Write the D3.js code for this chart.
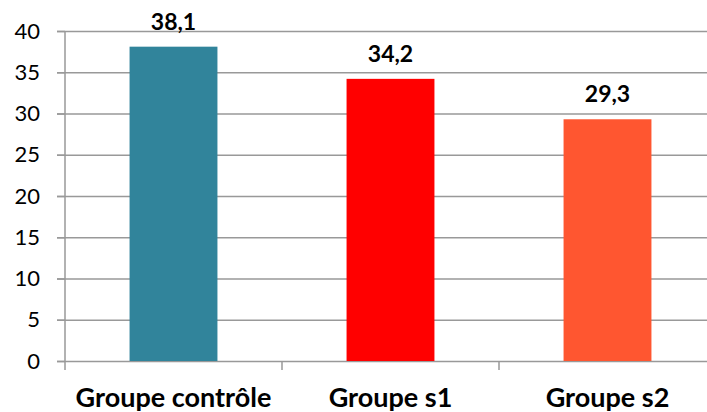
<!DOCTYPE html>
<html>
<head>
<meta charset="utf-8">
<script src="https://cdn.jsdelivr.net/npm/d3@7"></script>
<style>
	body { margin: 0; background: #fff; }
	svg { display: block; }
	.grid line { stroke: #999; stroke-width: 1.5; }
	.grid path { display: none; }
	.axis path, .axis line { stroke: #999; stroke-width: 1.5; }
	.y.axis text { font-family: Lato, sans-serif; font-size: 22px; fill: #000; }
	.x.axis text { font-family: Lato, sans-serif; font-size: 27px; font-weight: bold; fill: #000; }
	.label { font-family: Lato, sans-serif; font-size: 23px; font-weight: bold; fill: #000; }
</style>
</head>
<body>
<div id="chart"></div>
<script>
const categories = ["Groupe contrôle", "Groupe s1", "Groupe s2"];
const values = [38.1, 34.2, 29.3];
const labels = ["38,1", "34,2", "29,3"];
const colors = ["#31849b", "#ff0000", "#ff5630"];
const yTicks = [0, 5, 10, 15, 20, 25, 30, 35, 40];

const W = 707, H = 412;
const margin = {top: 31, left: 65, bottom: 51};
const width = 651;
const height = H - margin.top - margin.bottom;

let svg = d3.select("#chart")
	.append("svg")
	.attr("width", W)
	.attr("height", H)
	.append("g")
	.attr("transform", "translate(" + margin.left + "," + margin.top + ")");

let xScale = d3.scaleBand()
	.domain(categories)
	.range([0, width])
	.paddingInner(0)
	.paddingOuter(0);

let yScale = d3.scaleLinear()
	.domain([0, 40])
	.range([height, 0]);

// background grid
svg.append("g")
	.attr("class", "grid")
	.attr("transform", "translate(-8,0)")
	.call(d3.axisLeft(yScale).tickValues(yTicks)
		.tickSize(-(width + 8))
		.tickFormat("")
	);

// bars
let bw = xScale.bandwidth() * 0.405;
svg.selectAll("rect.bar")
	.data(values)
	.enter().append("rect")
	.attr("class", "bar")
	.attr("x", (d, i) => xScale(categories[i]) + (xScale.bandwidth() - bw) / 2)
	.attr("y", d => yScale(d))
	.attr("width", bw)
	.attr("height", d => height - yScale(d))
	.attr("fill", (d, i) => colors[i]);

// value labels
svg.selectAll("text.label")
	.data(values)
	.enter().append("text")
	.attr("class", "label")
	.attr("x", (d, i) => xScale(categories[i]) + xScale.bandwidth() / 2)
	.attr("y", d => yScale(d) - 17)
	.attr("text-anchor", "middle")
	.text((d, i) => labels[i]);

// y axis
let yAxis = svg.append("g")
	.attr("class", "y axis")
	.call(d3.axisLeft(yScale).tickValues(yTicks).tickSize(8).tickPadding(17));
yAxis.select(".domain").attr("d", "M0," + height + "V0");

// x axis
let xAxis = svg.append("g")
	.attr("class", "x axis")
	.attr("transform", "translate(0," + height + ")")
	.call(d3.axisBottom(xScale).tickSize(0).tickPadding(27));
xAxis.select(".domain").remove();
xAxis.selectAll("line.sep")
	.data(d3.range(categories.length + 1))
	.enter().append("line")
	.attr("class", "sep")
	.attr("x1", i => i * xScale.step())
	.attr("x2", i => i * xScale.step())
	.attr("y1", 0)
	.attr("y2", 9);
</script>
</body>
</html>
